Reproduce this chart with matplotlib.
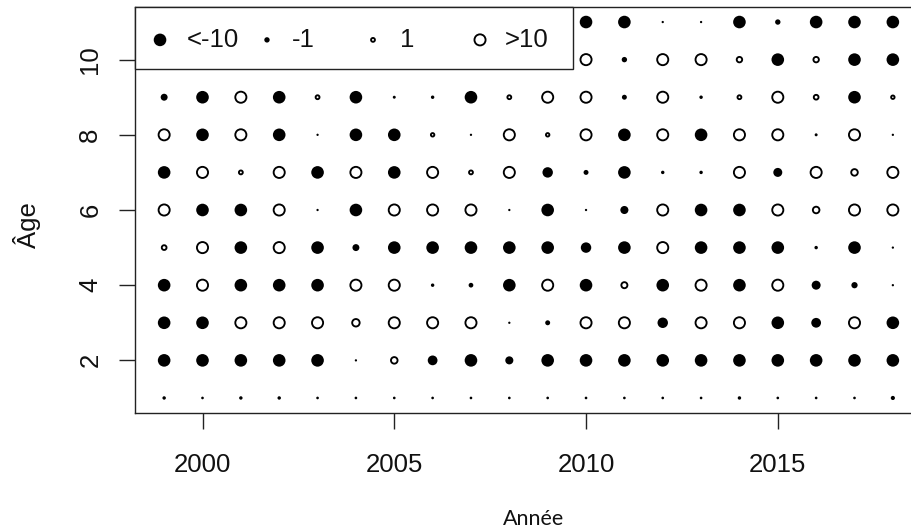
import numpy as np
import matplotlib
matplotlib.use("Agg")
import matplotlib.pyplot as plt
from matplotlib.patches import Rectangle

plt.rcParams['font.family'] = ['Liberation Sans', 'DejaVu Sans']

# Residuals by age (rows) and year (columns); negative = filled, positive = open
years = np.arange(1999, 2019)
ages = np.arange(1, 12)
nan = np.nan

age_1 = [-0.3, -0.15, -0.3, -0.3, -0.15, -0.15, -0.15, -0.15, -0.15, -0.15,
         -0.15, -0.15, -0.15, -0.15, -0.15, -0.3, -0.15, -0.15, -0.15, -0.5]
age_2 = [-12, -13, -11, -12, -11, -0.1, 3, -5, -11, -3,
         -12, -12, -13, -11, -12, -12, -11, -12, -13, -12]
age_3 = [-12, -11, 11, 12, 10, 4, 11, 12, 11, -0.1,
         -0.8, 11, 12, -6, 11, 12, -12, -5, 11, -12]
age_4 = [-12, 11, -12, -11, -12, 11, 12, -0.3, -0.7, -12,
         11, -12, 2.5, -11, 12, -12, 11, -4, -1.5, -0.1]
age_5 = [1.5, 11, -12, 11, -12, -2, -11, -12, -11, -12,
         -11, -6, -12, 11, -12, -11, -12, -0.3, -12, -0.1]
age_6 = [11, -12, -11, 12, -0.1, -12, 11, 12, 11, -0.1,
         -12, -0.1, -3, 11, -12, -11, 12, 3, 11, 12]
age_7 = [-12, 11, 1, 12, -11, 11, -12, 11, 1, 12,
         -6, -0.8, -12, -0.3, -0.3, 11, -4, 12, 3, 11]
age_8 = [11, -12, 12, -11, -0.1, -12, -11, 0.8, -0.1, 11,
         0.8, 12, -12, 11, -12, 12, 11, -0.2, 11, -0.1]
age_9 = [-2, -12, 11, -11, 1, -12, -0.2, -0.3, -12, 1,
         11, 12, -0.8, 11, -0.3, 1, 11, 1.5, -12, 0.8]
age_10 = [nan, nan, nan, nan, nan, nan, nan, nan, nan, nan,
          nan, 11, -1, 12, 11, 2, -12, 2, -11, -12]
age_11 = [nan, nan, nan, nan, nan, nan, nan, nan, nan, nan,
          nan, -12, -11, -0.1, -0.1, -12, -1, -11, -12, -12]

residuals = np.array([age_1, age_2, age_3, age_4, age_5, age_6, age_7,
                      age_8, age_9, age_10, age_11], dtype=float)

legend_values = [-10, -1, 1, 10]
legend_labels = ["<-10", "-1", "1", ">10"]

DPI = 100
PT_PER_PX = 72.0 / DPI
OPEN_LW = 1.35  # points


def diameter_px(v):
    v = np.abs(np.asarray(v, dtype=float))
    return 12.6 * (np.minimum(v, 10.0) / 10.0) ** 0.37


def sizes(v, open_marker):
    d = diameter_px(v)
    if open_marker:
        d = np.maximum(d - 0.8 * OPEN_LW / PT_PER_PX, 1.0)
    return (d * PT_PER_PX) ** 2


def draw_bubbles(axis, x, y, v, **kw):
    v = np.asarray(v, dtype=float)
    x = np.asarray(x, dtype=float)
    y = np.asarray(y, dtype=float)
    neg = v < 0
    pos = v > 0
    axis.scatter(x[neg], y[neg], s=sizes(v[neg], False), c='black',
                 linewidths=0, **kw)
    axis.scatter(x[pos], y[pos], s=sizes(v[pos], True), facecolors='none',
                 edgecolors='black', linewidths=OPEN_LW, **kw)


fig = plt.figure(figsize=(9.12, 5.31), dpi=DPI)
ax = fig.add_axes([135 / 912, 118 / 531, 787 / 912, 406 / 531])

X, Y = np.meshgrid(years, ages)
mask = ~np.isnan(residuals)
draw_bubbles(ax, X[mask], Y[mask], residuals[mask], zorder=2)

ax.set_xlim(1998.24, 2018.76)
ax.set_ylim(0.6, 11.4)
ax.set_xticks([2000, 2005, 2010, 2015])
ax.set_yticks([2, 4, 6, 8, 10])

for sp in ax.spines.values():
    sp.set_linewidth(1.0)
    sp.set_color('#222222')

ax.tick_params(axis='both', direction='out', length=11.5, width=1.0,
               color='#222222', labelsize=18.5, labelcolor='#111111')
ax.tick_params(axis='x', pad=17)
ax.tick_params(axis='y', pad=12)
for lab in ax.get_yticklabels():
    lab.set_rotation(90)
    lab.set_va('center')

ax.set_ylabel('Âge', fontsize=18.5, color='#111111')
ax.yaxis.label.set_va('center')
ax.yaxis.set_label_coords(-0.137, 0.463)

ax.set_xlabel('Année', fontsize=15.5, color='#111111', family=['Lato', 'DejaVu Sans'])
ax.xaxis.label.set_va('center')
ax.xaxis.set_label_coords(0.506, -0.262)

# Legend box in the top-left corner, horizontal layout
ax.add_patch(Rectangle((0.0, 0.847), 0.5565, 0.153, transform=ax.transAxes,
                       facecolor='white', edgecolor='#222222', linewidth=1.0,
                       zorder=3, clip_on=False))
marker_x = [0.0318, 0.1677, 0.3024, 0.4384]
text_x = [0.066, 0.1995, 0.3367, 0.4701]
legend_y = 0.919
draw_bubbles(ax, marker_x, [legend_y] * 4, legend_values,
             transform=ax.transAxes, zorder=4, clip_on=False)
for tx, lab in zip(text_x, legend_labels):
    ax.text(tx, legend_y, lab, transform=ax.transAxes, ha='left', va='center',
            fontsize=18.5, color='#111111', zorder=4)

fig.savefig('out.png', dpi=DPI)
